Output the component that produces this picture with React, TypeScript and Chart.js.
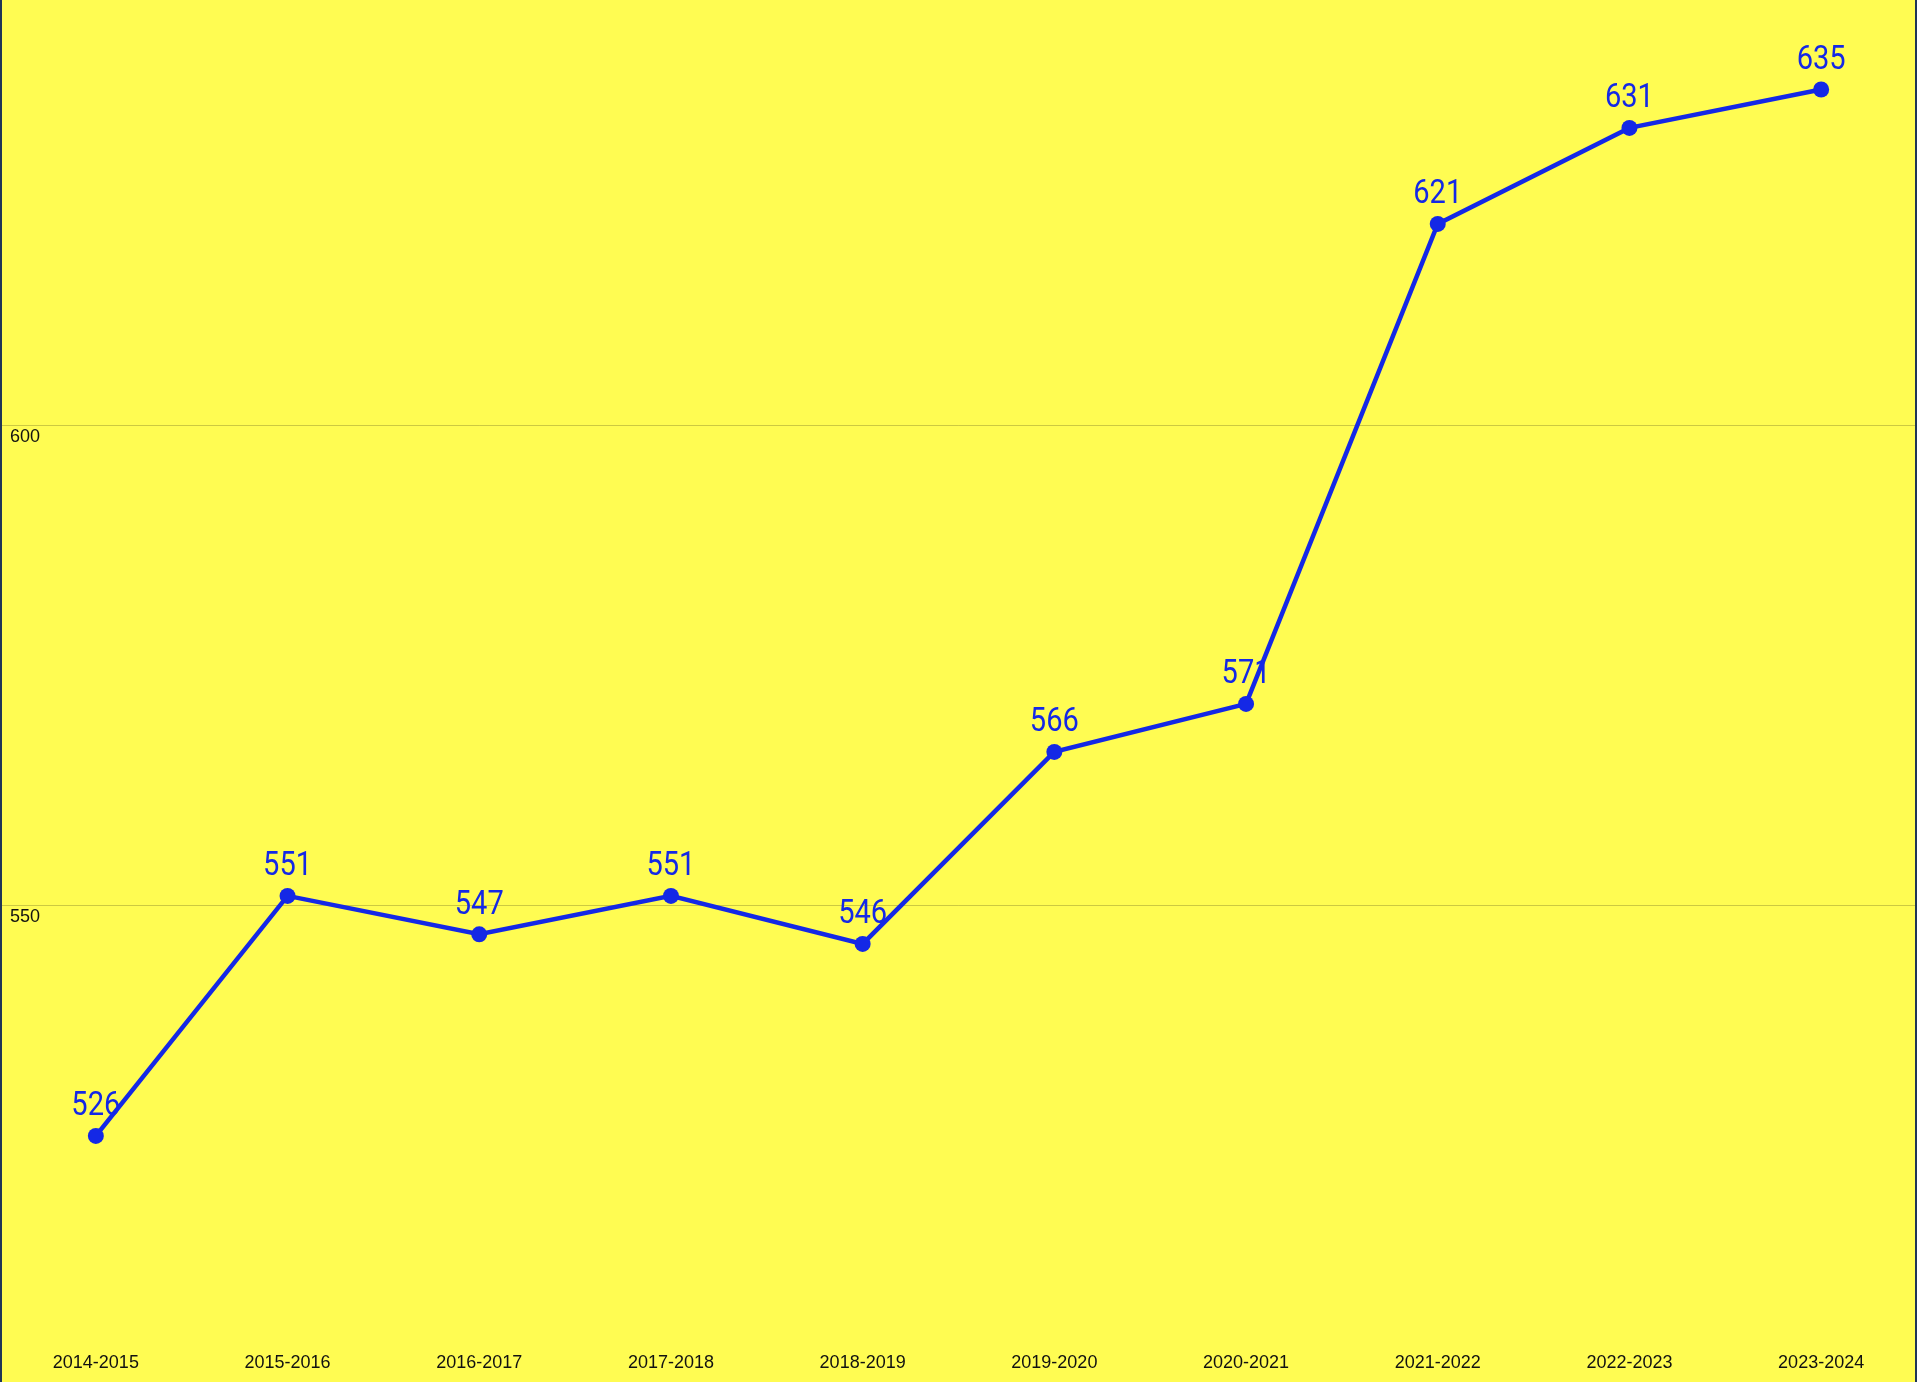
import React, { useEffect, useRef } from "react";
import { Chart, registerables } from "chart.js";

Chart.register(...registerables);

const categories = [
  "2014-2015", "2015-2016", "2016-2017", "2017-2018", "2018-2019",
  "2019-2020", "2020-2021", "2021-2022", "2022-2023", "2023-2024",
];
const values = [526, 551, 547, 551, 546, 566, 571, 621, 631, 635];
const yTicks = [550, 600];

const BG = "#fffc52";
const LINE = "#1428e6";
const FRAME = "#1f3556";

const framePlugin = {
  id: "frame",
  beforeDraw(chart: any) {
    const { ctx, width, height } = chart;
    ctx.save();
    ctx.fillStyle = BG;
    ctx.fillRect(0, 0, width, height);
    ctx.restore();
  },
  afterDraw(chart: any) {
    const { ctx, width, height } = chart;
    ctx.save();
    ctx.fillStyle = FRAME;
    ctx.fillRect(0, 0, 2, height);
    ctx.fillRect(width - 2, 0, 2, height);
    ctx.restore();
  },
};

const labelPlugin = {
  id: "valueLabels",
  afterDatasetsDraw(chart: any) {
    const { ctx } = chart;
    const meta = chart.getDatasetMeta(0);
    const data = chart.data.datasets[0].data;
    ctx.save();
    ctx.font = "33px Roboto, 'Liberation Sans', sans-serif";
    ctx.fillStyle = LINE;
    ctx.textAlign = "center";
    ctx.textBaseline = "middle";
    meta.data.forEach((pt: any, i: number) => {
      ctx.save();
      ctx.translate(pt.x, pt.y - 29);
      ctx.scale(0.88, 1);
      ctx.fillText(String(data[i]), 0, 0);
      ctx.restore();
    });
    ctx.restore();
  },
};

export default function App() {
  const ref = useRef<HTMLCanvasElement | null>(null);

  useEffect(() => {
    document.body.style.margin = "0";
    const canvas = ref.current;
    if (!canvas) return;
    const chart = new Chart(canvas, {
      type: "line",
      data: {
        labels: categories,
        datasets: [
          {
            data: values,
            borderColor: LINE,
            backgroundColor: LINE,
            borderWidth: 4.5,
            pointRadius: 8,
            pointBackgroundColor: LINE,
            pointBorderWidth: 0,
            tension: 0,
            clip: false as any,
          },
        ],
      },
      options: {
        animation: false,
        responsive: false,
        maintainAspectRatio: false,
        layout: { padding: 0, autoPadding: false },
        plugins: {
          legend: { display: false },
          tooltip: { enabled: false },
        },
        scales: {
          x: {
            offset: true,
            grid: { display: false, drawTicks: false },
            border: { display: false },
            ticks: {
              color: "#111",
              font: { family: "'Liberation Sans', Arial, sans-serif", size: 18 },
              padding: 12,
              maxRotation: 0,
              autoSkip: false,
            },
            afterFit(scale: any) {
              scale.height = 42;
            },
          },
          y: {
            min: 504.74,
            max: 644.32,
            grid: { color: "rgba(0,0,0,0.2)", lineWidth: 1, drawTicks: false },
            border: { display: false },
            afterBuildTicks(scale: any) {
              scale.ticks = yTicks.map((v) => ({ value: v }));
            },
            afterFit(scale: any) {
              scale.width = 0;
              scale.paddingTop = 0;
              scale.paddingBottom = 0;
            },
            ticks: {
              mirror: true,
              padding: 10,
              labelOffset: 12,
              color: "#111",
              font: { family: "'Liberation Sans', Arial, sans-serif", size: 18 },
            },
          },
        },
      },
      plugins: [framePlugin, labelPlugin],
    });
    return () => chart.destroy();
  }, []);

  return (
    <div style={{ width: 1917, height: 1382 }}>
      <canvas ref={ref} width={1917} height={1382} style={{ display: "block" }} />
    </div>
  );
}
